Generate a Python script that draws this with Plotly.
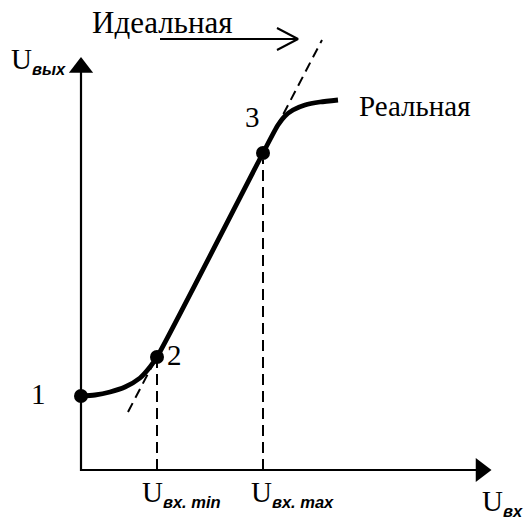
import plotly.graph_objects as go

# Transfer characteristic of an amplifier stage (arbitrary units)
real_x = [0.00, 0.28, 0.58, 0.88, 1.18, 1.38, 1.52, 3.64, 3.94, 4.08, 4.24, 4.48, 4.78, 5.14]
real_y = [1.48, 1.50, 1.56, 1.66, 1.84, 2.06, 2.26, 6.34, 6.90, 7.08, 7.20, 7.30, 7.36, 7.40]

ideal_x = [0.94, 4.82]
ideal_y = [1.16, 8.60]

point_x = [0.00, 1.52, 3.64]
point_y = [1.48, 2.26, 6.34]
point_labels = ["1", "2", "3"]

u_in_min = 1.52
u_in_max = 3.64

axis_x_end = 7.9
axis_y_end = 8.0

serif = "Liberation Serif"
sans = "Liberation Sans"

fig = go.Figure()

# axes
fig.add_trace(go.Scatter(x=[0, 0, axis_x_end], y=[axis_y_end, 0, 0], mode="lines",
                         line=dict(color="black", width=2.2), hoverinfo="skip"))
fig.add_trace(go.Scatter(x=[0], y=[8.05], mode="markers",
                         marker=dict(symbol="triangle-up", size=21, color="black"), hoverinfo="skip"))
fig.add_trace(go.Scatter(x=[8.0], y=[0], mode="markers",
                         marker=dict(symbol="triangle-right", size=21, color="black"), hoverinfo="skip"))

# projections of the linear region boundaries
for xv, yv in [(u_in_min, 2.2), (u_in_max, 6.2)]:
    fig.add_trace(go.Scatter(x=[xv, xv], y=[0, yv], mode="lines",
                             line=dict(color="black", width=2, dash="11px,6px"), hoverinfo="skip"))

# ideal characteristic
fig.add_trace(go.Scatter(x=ideal_x, y=ideal_y, mode="lines",
                         line=dict(color="black", width=2, dash="10px,6px"), hoverinfo="skip"))

# real characteristic
fig.add_trace(go.Scatter(x=real_x, y=real_y, mode="lines",
                         line=dict(color="black", width=4.8, shape="spline", smoothing=0.7),
                         hoverinfo="skip"))

# characteristic points
fig.add_trace(go.Scatter(x=point_x, y=point_y, mode="markers",
                         marker=dict(size=14, color="black"), hoverinfo="skip"))

# pointer to the ideal line
fig.add_trace(go.Scatter(x=[1.58, 4.34], y=[8.62, 8.62], mode="lines",
                         line=dict(color="black", width=2), hoverinfo="skip"))
fig.add_trace(go.Scatter(x=[3.92, 4.34, 3.92], y=[8.84, 8.62, 8.40], mode="lines",
                         line=dict(color="black", width=2), hoverinfo="skip"))

big = dict(family=serif, size=29, color="black")
title_font = dict(family=serif, size=31, color="black")

def sub(text):
    return ("<sub><span style='font-family:%s;font-style:italic;font-weight:bold;"
            "font-size:16.5px'>%s</span></sub>" % (sans, text))

annotations = [
    dict(x=1.62, y=8.96, text="Идеальная", xanchor="center", yanchor="middle", font=title_font),
    dict(x=5.52, y=7.28, text="Реальная", xanchor="left", yanchor="middle", font=big),
    dict(x=-0.86, y=1.52, text=point_labels[0], xanchor="center", yanchor="middle", font=big),
    dict(x=1.86, y=2.30, text=point_labels[1], xanchor="center", yanchor="middle", font=big),
    dict(x=3.42, y=7.06, text=point_labels[2], xanchor="center", yanchor="middle", font=big),
    dict(x=-1.44, y=8.20, text="U" + sub("вых"), xanchor="left", yanchor="middle", font=big),
    dict(x=1.18, y=-0.46, text="U" + sub("вх. min"), xanchor="left", yanchor="middle", font=big),
    dict(x=3.36, y=-0.46, text="U" + sub("вх. max"), xanchor="left", yanchor="middle", font=big),
    dict(x=7.98, y=-0.64, text="U" + sub("вх"), xanchor="left", yanchor="middle", font=big),
]
for a in annotations:
    a.update(xref="x", yref="y", showarrow=False)

fig.update_layout(
    width=527, height=521,
    margin=dict(l=0, r=0, t=0, b=0),
    paper_bgcolor="white", plot_bgcolor="white",
    showlegend=False,
    xaxis=dict(range=[-1.62, 8.92], visible=False, fixedrange=True),
    yaxis=dict(range=[-1.02, 9.40], visible=False, fixedrange=True),
    annotations=annotations,
)

fig.write_html("out.html")
